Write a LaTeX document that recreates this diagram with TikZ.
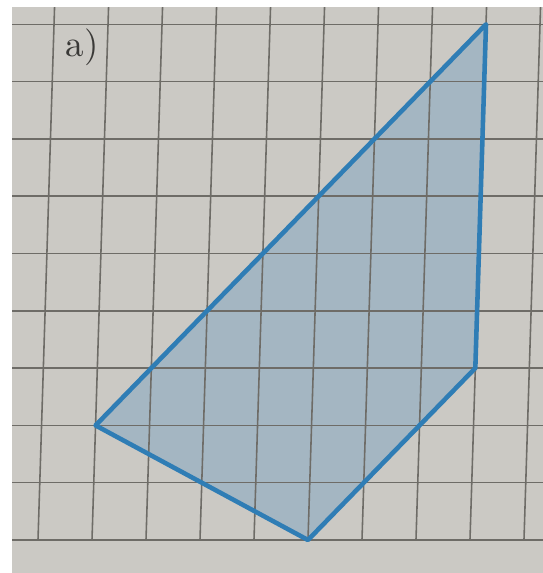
\documentclass[tikz,border=0pt]{standalone}
\usepackage{tikz}
\definecolor{paper}{HTML}{CBC9C4}
\definecolor{gridline}{HTML}{6E6C67}
\definecolor{penblue}{HTML}{2F7DB5}
\definecolor{shadeblue}{HTML}{A4B6C2}
\definecolor{inkgrey}{HTML}{3A3937}

\begin{document}
\begin{tikzpicture}[x={(0.54cm,0)}, y={(0.0178cm,0.573cm)},
  grd/.style={gridline, line width=0.45pt},
  fig/.style={draw=penblue, line width=1.3pt, line join=round},
  lbl/.style={inkgrey, font=\fontsize{10.5}{12}\selectfont}]
\useasboundingbox (-0.38cm,-0.33cm) rectangle (5.05cm,5.40cm);
\fill[white] (-0.38cm,-0.33cm) rectangle (5.05cm,5.40cm);
\fill[paper] (-0.26cm,-0.33cm) rectangle (5.05cm,5.33cm);
% corners of the figure
\coordinate (top) at (8,9);
\coordinate (right) at (8,3);
\coordinate (bottom) at (5,0);
\coordinate (left) at (1,2);
\fill[shadeblue] (top) -- (right) -- (bottom) -- (left) -- cycle;
% squared paper
\begin{scope}
  \clip (-0.26cm,-0.33cm) rectangle (5.05cm,5.33cm);
  \foreach \i in {0,...,9}
    \draw[grd] (\i,0) -- (\i,9.3);
  \foreach \j in {0,...,9}
    \draw[grd] (-2,\j) -- (11,\j);
\end{scope}
\draw[fig] (top) -- (right) -- (bottom) -- (left) -- cycle;
\node[lbl] (name) at (0.44cm,4.93cm) {a)};
\end{tikzpicture}
\end{document}
